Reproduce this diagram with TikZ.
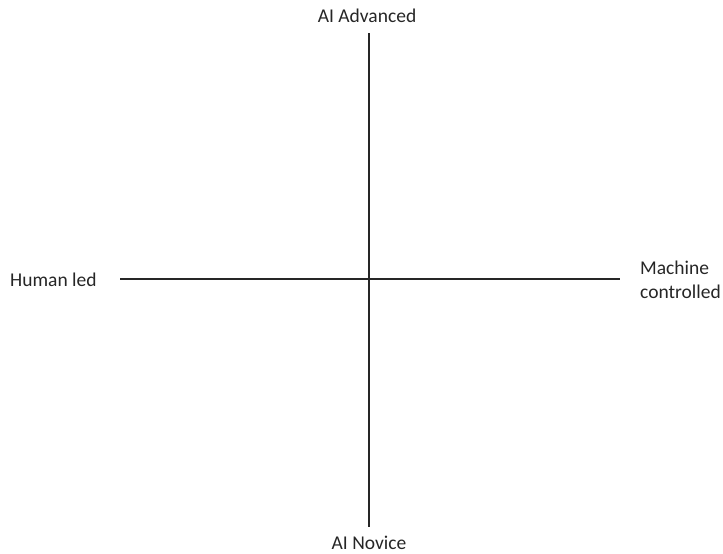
\documentclass[tikz,border=0pt]{standalone}
\usepackage{fontspec}
\setmainfont{Carlito}
\begin{document}
\begin{tikzpicture}[x=1pt, y=-1pt, line join=round, font=\fontsize{19.5}{24}\selectfont]
	\tikzset{axis/.style={line width=1.1pt, black!85}, lab/.style={inner sep=0pt, text=black!85}}
	\useasboundingbox (0,0) rectangle (723,554);
	\foreach \x/\y/\z in {369/33/top, 369/527/bottom, 120/279/left, 620/279/right}{
		\path (\x,\y) coordinate (\z);
	}
	\draw[axis] (top)--(bottom);
	\draw[axis] (left)--(right);
	\node[lab] (adv) at (367,16) {AI Advanced};
	\node[lab] (nov) at (369,543) {AI Novice};
	\node[lab, anchor=west] (hum) at (10,280) {Human led};
	\node[lab, anchor=west, align=left] (mac) at (640,280) {Machine\\controlled};
\end{tikzpicture}
\end{document}
